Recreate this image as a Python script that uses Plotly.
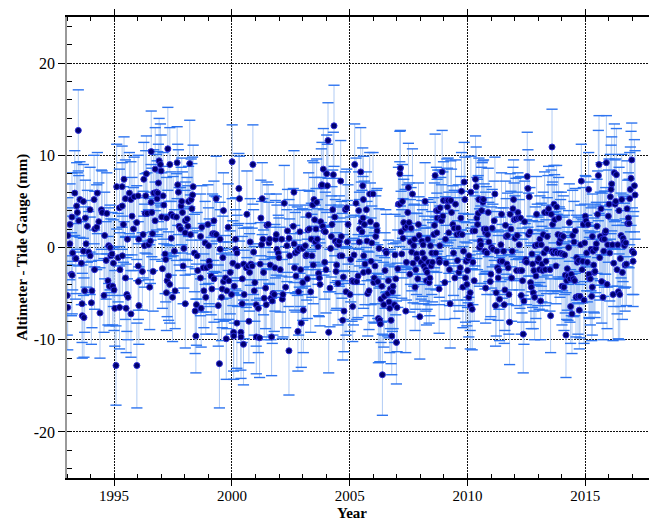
import plotly.graph_objects as go

# ---- data (decimal year, mm, 1-sigma mm) ----
t_1993 = [1993.01, 1993.03, 1993.04, 1993.13, 1993.12, 1993.19, 1993.21, 1993.22, 1993.24, 1993.33,
          1993.355, 1993.38, 1993.41, 1993.44, 1993.48, 1993.50, 1993.55, 1993.61, 1993.64, 1993.65,
          1993.695, 1993.70, 1993.72, 1993.75, 1993.78, 1993.81, 1993.865, 1993.92, 1993.98, 1993.985,
          1994.035, 1994.06, 1994.15, 1994.17, 1994.18, 1994.26, 1994.29, 1994.35, 1994.40, 1994.46,
          1994.49, 1994.57, 1994.60, 1994.66, 1994.69, 1994.74, 1994.77, 1994.80, 1994.83, 1994.86,
          1994.91, 1994.94, 1994.97, 1994.997, 1995.03, 1995.08, 1995.11, 1995.17, 1995.225, 1995.23,
          1995.25, 1995.34, 1995.345, 1995.35, 1995.395, 1995.42, 1995.48, 1995.485, 1995.51, 1995.54,
          1995.565, 1995.59, 1995.65, 1995.71, 1995.715, 1995.76, 1995.82, 1995.85, 1995.96, 1995.965,
          1996.02, 1996.025, 1996.03, 1996.045, 1996.05]
v_1993 = [-5.2, -6.5, 1.3, 2.5, 0.4, -2.9, 3.3, -3.0, -0.6, 5.9,
          -1.2, -1.2, 4.5, 3.8, 12.7, 2.9, 5.2, -1.7, -6.1, -7.4,
          5.0, -0.4, -7.6, -4.7, 3.2, 0.4, 2.3, -0.5, 4.1, -0.9,
          -6.0, -4.7, 5.2, -2.4, 2.0, 2.2, 5.9, 2.8, -7.1, 4.1,
          3.8, -5.2, 1.3, -1.4, 3.7, -3.6, 0.2, -4.2, 0.0, -0.9,
          -0.7, -4.2, -1.7, -4.6, -6.6, -12.8, 6.6, -1.1, 4.3, -6.5,
          -2.4, 6.6, 4.5, -0.9, 2.5, 7.4, 5.3, -3.3, -6.6, -5.1,
          0.9, -5.4, 5.9, 5.2, -7.2, 3.4, 2.0, 5.5, 2.7, -12.8,
          5.6, -2.0, -3.7, 0.9, -6.3]
e_1993 = [4.3, 4.6, 4.1, 4.4, 3.9, 4.5, 4.8, 4.2, 4.0, 4.6,
          4.4, 3.8, 4.7, 4.3, 4.4, 4.9, 4.1, 4.5, 4.2, 4.6,
          4.0, 4.8, 4.3, 4.5, 4.1, 4.7, 3.9, 4.4, 4.6, 4.2,
          4.5, 4.0, 4.8, 4.3, 4.1, 4.6, 4.4, 4.2, 4.9, 4.3,
          4.5, 4.0, 4.7, 4.2, 4.4, 4.8, 4.1, 4.3, 4.6, 4.0,
          4.5, 4.2, 4.7, 4.4, 4.1, 4.3, 4.6, 4.8, 4.2, 4.5,
          4.0, 4.4, 4.7, 4.3, 4.1, 4.6, 4.2, 4.5, 4.8, 4.0,
          4.3, 4.6, 4.4, 4.1, 4.7, 4.2, 4.5, 4.3, 4.0, 4.6,
          4.4, 4.8, 4.1, 4.5, 4.2]

t_1996 = [1996.20, 1996.23, 1996.26, 1996.29, 1996.315, 1996.34, 1996.37, 1996.40, 1996.46, 1996.51,
          1996.54, 1996.57, 1996.575, 1996.60, 1996.63, 1996.655, 1996.68, 1996.74, 1996.745, 1996.80,
          1996.825, 1996.85, 1996.88, 1996.91, 1996.965, 1996.995, 1997.02, 1997.05, 1997.08, 1997.11,
          1997.165, 1997.19, 1997.22, 1997.225, 1997.25, 1997.28, 1997.31, 1997.36, 1997.365, 1997.42,
          1997.425, 1997.48, 1997.505, 1997.56, 1997.59, 1997.645, 1997.675, 1997.70, 1997.73, 1997.76,
          1997.82, 1997.845, 1997.87, 1997.90, 1997.93, 1997.96, 1998.015, 1998.02, 1998.025, 1998.10,
          1998.13, 1998.16, 1998.21, 1998.24, 1998.27, 1998.30, 1998.33, 1998.355, 1998.41, 1998.44,
          1998.47, 1998.495, 1998.525, 1998.55, 1998.665, 1998.67, 1998.695, 1998.72, 1998.78, 1998.81,
          1998.865, 1998.89, 1998.92, 1998.98, 1999.005, 1999.035, 1999.06, 1999.12, 1999.15, 1999.18,
          1999.235, 1999.24, 1999.26]
v_1996 = [-2.6, 1.4, 7.4, 0.2, 3.7, 5.6, 8.0, 3.7, 0.3, -4.3,
          0.7, 4.9, 10.4, 3.8, 1.5, -2.6, 5.9, 2.9, 8.5, 6.0,
          5.3, 5.9, 7.0, 9.4, 9.0, 8.3, 3.3, -2.3, 5.6, 4.6,
          -0.7, -1.3, -4.9, 3.2, -3.6, 10.7, -3.1, -4.0, 9.0, 3.6,
          1.0, -5.4, 3.4, -0.4, -4.7, 3.3, 9.2, 6.8, 6.0, 2.3,
          2.0, 4.5, 5.0, 3.8, -2.0, -0.1, 1.6, -6.1, 2.9, 3.1,
          2.3, 5.0, 9.1, 1.4, 5.2, 4.2, 5.7, 6.6, -0.6, -6.9,
          -9.6, -6.2, -0.9, -2.5, -3.3, 1.2, -6.6, 2.2, -2.2, -4.7,
          0.5, -5.4, -2.2, 2.5, 0.2, -1.5, -2.0, -3.1, -4.5, 1.5,
          2.9, -3.4, 1.5]
e_1996 = [4.2, 4.7, 4.0, 4.5, 4.3, 4.9, 4.1, 4.4, 3.8, 4.6,
          4.6, 4.1, 4.4, 4.8, 4.0, 4.3, 4.7, 4.2, 4.5, 4.1,
          4.1, 4.5, 4.2, 4.6, 4.4, 3.9, 4.8, 4.3, 4.7, 4.2,
          4.3, 4.6, 4.1, 4.4, 3.9, 4.5, 4.8, 4.2, 4.0, 4.6,
          4.0, 4.8, 4.3, 4.5, 4.1, 4.7, 3.9, 4.4, 4.6, 4.2,
          4.5, 4.2, 4.7, 4.4, 4.1, 4.3, 4.6, 4.8, 4.2, 4.5,
          4.4, 3.8, 4.7, 4.3, 4.4, 4.9, 4.1, 4.5, 4.2, 4.6,
          4.0, 4.4, 4.7, 4.3, 4.1, 4.6, 4.2, 4.5, 4.8, 4.0,
          4.5, 4.0, 4.8, 4.3, 4.1, 4.6, 4.4, 4.2, 4.9, 4.3,
          4.3, 4.7, 4.1]

t_1999 = [1999.33, 1999.335, 1999.42, 1999.47, 1999.50, 1999.505, 1999.56, 1999.59, 1999.615, 1999.64,
          1999.645, 1999.73, 1999.76, 1999.785, 1999.84, 1999.87, 1999.93, 1999.985, 2000.01, 2000.04,
          2000.07, 2000.075, 2000.10, 2000.154, 2000.16, 2000.21, 2000.215, 2000.24, 2000.295, 2000.32,
          2000.38, 2000.385, 2000.436, 2000.44, 2000.49, 2000.495, 2000.52, 2000.61, 2000.635, 2000.69,
          2000.72, 2000.75, 2000.777, 2000.805, 2000.86, 2000.89, 2000.92, 2000.95, 2000.975, 2001.03,
          2001.035, 2001.12, 2001.174, 2001.20, 2001.23, 2001.26, 2001.287, 2001.315, 2001.344, 2001.372,
          2001.43, 2001.457, 2001.485, 2001.54, 2001.57, 2001.599, 2001.627, 2001.655, 2001.684, 2001.712,
          2001.74, 2001.797, 2001.825, 2001.854, 2001.882, 2001.91, 2001.967, 2001.995, 2002.05, 2002.11,
          2002.137, 2002.165, 2002.222, 2002.28, 2002.335, 2002.36, 2002.42, 2002.425, 2002.45]
v_1999 = [5.3, 1.4, -6.3, -12.6, 0.9, -0.2, -5.4, -4.5, -1.1, 4.0,
          -3.7, -3.3, -9.9, -4.7, 2.2, -3.6, -2.7, -5.1, 9.3, -1.7,
          -9.2, -9.6, -4.2, 0.9, -0.2, -8.2, -0.6, -2.0, 6.4, 5.3,
          -9.2, -9.7, -6.1, -3.4, -10.5, -1.8, -5.1, -2.2, 3.6, -2.0,
          -8.0, -2.7, 0.6, -1.8, -2.0, 9.0, -0.5, -4.7, -3.8, -6.2,
          -9.7, -6.6, -9.8, -1.8, 3.2, 0.3, 5.3, 0.9, -2.7, -5.5,
          -4.4, -6.2, 2.4, 2.5, 0.5, 0.9, -1.9, -5.5, -9.7, -5.8,
          -5.0, -5.1, -2.2, 0.9, 1.4, -0.2, -0.6, -1.1, -2.4, 0.9,
          -5.6, -5.1, 4.8, -4.3, 0.2, 1.8, -11.2, 1.0, -0.9]
e_1999 = [4.6, 4.1, 4.4, 4.8, 4.0, 4.3, 4.7, 4.2, 4.5, 4.1,
          4.3, 4.6, 4.4, 4.1, 4.7, 4.2, 4.5, 4.3, 4.0, 4.6,
          4.2, 4.7, 4.0, 4.5, 4.3, 4.9, 4.1, 4.4, 3.8, 4.6,
          4.1, 4.5, 4.2, 4.6, 4.4, 3.9, 4.8, 4.3, 4.7, 4.2,
          4.5, 4.2, 4.7, 4.4, 4.1, 4.3, 4.6, 4.8, 4.2, 4.5,
          4.0, 4.8, 4.3, 4.5, 4.1, 4.7, 3.9, 4.4, 4.6, 4.2,
          4.4, 3.8, 4.7, 4.3, 4.4, 4.9, 4.1, 4.5, 4.2, 4.6,
          4.5, 4.0, 4.7, 4.2, 4.4, 4.8, 4.1, 4.3, 4.6, 4.0,
          4.3, 4.6, 4.1, 4.4, 3.9, 4.5, 4.8, 4.2, 4.0]

t_2002 = [2002.605, 2002.633, 2002.637, 2002.66, 2002.69, 2002.718, 2002.775, 2002.80, 2002.83, 2002.86,
          2002.888, 2002.917, 2002.945, 2003.00, 2003.005, 2003.03, 2003.115, 2003.143, 2003.172, 2003.20,
          2003.228, 2003.257, 2003.285, 2003.342, 2003.37, 2003.398, 2003.427, 2003.455, 2003.483, 2003.512,
          2003.54, 2003.568, 2003.597, 2003.625, 2003.653, 2003.68, 2003.71, 2003.738, 2003.767, 2003.795,
          2003.823, 2003.852, 2003.88, 2003.908, 2003.937, 2003.965, 2003.993, 2004.022, 2004.05, 2004.078,
          2004.107, 2004.163, 2004.192, 2004.22, 2004.248, 2004.277, 2004.305, 2004.333, 2004.362, 2004.39,
          2004.418, 2004.447, 2004.475, 2004.503, 2004.532, 2004.56, 2004.588, 2004.617, 2004.645, 2004.673,
          2004.702, 2004.73, 2004.758, 2004.815, 2004.843, 2004.872, 2004.90, 2004.928, 2005.013, 2005.042,
          2005.098, 2005.127, 2005.155, 2005.183, 2005.212, 2005.268, 2005.297, 2005.353, 2005.382, 2005.41,
          2005.415, 2005.467, 2005.495, 2005.523, 2005.552, 2005.58, 2005.585]
v_2002 = [2.3, 6.0, 0.4, -2.2, -0.6, -3.1, -0.4, -9.1, -4.8, -0.1,
          1.7, -2.4, -8.2, -0.1, -3.8, -6.8, 0.2, -0.9, -0.8, -3.4,
          1.9, 3.5, 2.0, -4.8, 0.9, -0.9, 4.6, -1.9, 5.2, 3.0,
          0.6, 2.0, 4.9, 0.9, 0.1, -2.8, -3.3, -4.0, 2.8, 6.7,
          6.8, 2.3, 8.5, 1.8, -1.6, 1.7, -2.4, 8.0, 6.7, 11.6,
          -9.2, -4.4, -0.1, 1.2, 2.5, 4.1, 7.9, 13.2, 3.3, 0.7,
          -2.6, -1.9, 0.4, -3.9, 0.3, 0.7, -0.9, 7.2, 1.2, -0.9,
          -7.9, -3.2, -6.9, 4.1, -4.8, 4.3, 0.6, 2.5, -5.1, -1.3,
          -3.6, -6.4, -3.7, -0.8, 9.0, 4.8, -3.7, -3.1, 4.0, 0.6,
          2.0, 8.2, 2.8, 1.7, 6.7, 5.2, -2.7]
e_2002 = [4.1, 4.5, 4.2, 4.6, 4.4, 3.9, 4.8, 4.3, 4.7, 4.2,
          4.5, 4.0, 4.8, 4.3, 4.1, 4.6, 4.4, 4.2, 4.9, 4.3,
          4.3, 4.6, 4.1, 4.4, 3.9, 4.5, 4.8, 4.2, 4.0, 4.6,
          4.0, 4.4, 4.7, 4.3, 4.1, 4.6, 4.2, 4.5, 4.8, 4.0,
          4.6, 4.1, 4.4, 4.8, 4.0, 4.3, 4.7, 4.2, 4.5, 4.1,
          4.4, 4.2, 4.7, 4.4, 4.1, 4.3, 4.6, 4.4, 4.2, 4.5,
          4.2, 4.7, 4.0, 4.5, 4.3, 4.9, 4.1, 4.4, 3.8, 4.6,
          4.3, 4.6, 4.4, 4.1, 4.7, 4.2, 4.5, 4.3, 4.0, 4.6,
          4.4, 3.8, 4.7, 4.3, 4.4, 4.9, 4.1, 4.5, 4.2, 4.6,
          4.0, 4.8, 4.3, 4.5, 4.1, 4.7, 3.9]

t_2005 = [2005.565, 2005.594, 2005.622, 2005.65, 2005.707, 2005.735, 2005.764, 2005.792, 2005.82, 2005.849,
          2005.877, 2005.905, 2005.934, 2005.99, 2006.019, 2006.047, 2006.075, 2006.104, 2006.132, 2006.16,
          2006.189, 2006.217, 2006.245, 2006.274, 2006.302, 2006.33, 2006.359, 2006.387, 2006.444, 2006.472,
          2006.50, 2006.529, 2006.557, 2006.614, 2006.642, 2006.67, 2006.699, 2006.727, 2006.755, 2006.784,
          2006.812, 2006.84, 2006.897, 2006.925, 2006.954, 2006.982, 2007.01, 2007.039, 2007.067, 2007.124,
          2007.128, 2007.152, 2007.18, 2007.209, 2007.237, 2007.265, 2007.294, 2007.35, 2007.379, 2007.407,
          2007.435, 2007.464, 2007.492, 2007.52, 2007.549, 2007.577, 2007.605, 2007.634, 2007.662, 2007.69,
          2007.719, 2007.747, 2007.775, 2007.804, 2007.832, 2007.86, 2007.889, 2007.917, 2007.945, 2007.974,
          2008.03, 2008.059, 2008.087, 2008.115, 2008.144, 2008.172, 2008.20, 2008.229, 2008.257, 2008.285,
          2008.314, 2008.342, 2008.37, 2008.399, 2008.427, 2008.455, 2008.484, 2008.512, 2008.569, 2008.597,
          2008.625, 2008.654, 2008.682, 2008.71, 2008.739, 2008.795, 2008.80, 2008.824]
v_2005 = [3.2, -0.9, 2.5, -1.8, 4.1, 0.7, -5.0, -2.6, -4.7, 5.8,
          2.8, -1.5, 0.5, 5.8, -3.8, -3.3, -2.0, 1.2, 2.4, 1.8,
          -3.7, -7.7, -0.1, -7.9, -8.3, -5.6, -4.2, -13.8, -6.2, -5.3,
          -2.5, -0.4, -0.6, -5.0, -3.6, -5.9, -6.6, -4.5, -7.9, -9.6,
          -4.8, -4.2, -6.2, -0.8, -3.4, -10.3, -6.5, -2.3, 4.7, 4.7,
          8.0, 8.6, 1.7, -0.7, 5.0, 1.0, 2.7, 2.1, -6.9, -1.6,
          2.3, 3.8, 6.5, 2.7, -2.9, 0.6, 2.1, -0.5, 5.8, -1.7,
          0.2, 0.9, -4.3, -2.4, -0.7, -1.2, -3.4, 2.5, 1.3, -7.5,
          -1.6, 0.7, -0.6, 0.3, -2.0, -1.2, 5.0, -2.4, -3.6, -2.7,
          0.9, -1.6, -3.8, -3.3, 0.2, -2.0, -0.6, -1.6, 1.4, 2.4,
          7.8, -0.6, 4.0, 3.2, 4.0, -4.5, -1.3, 0.2]
e_2005 = [4.5, 4.2, 4.7, 4.4, 4.1, 4.3, 4.6, 4.8, 4.2, 4.5,
          4.2, 4.7, 4.0, 4.5, 4.3, 4.9, 4.1, 4.4, 3.8, 4.6,
          4.0, 4.8, 4.3, 4.5, 4.1, 4.7, 3.9, 4.4, 4.6, 4.2,
          4.1, 4.5, 4.2, 4.6, 4.4, 3.9, 4.8, 4.3, 4.7, 4.2,
          4.3, 4.6, 4.1, 4.4, 3.9, 4.5, 4.8, 4.2, 4.0, 4.6,
          4.6, 4.1, 4.4, 4.8, 4.0, 4.3, 4.7, 4.2, 4.5, 4.1,
          4.5, 4.0, 4.8, 4.3, 4.1, 4.6, 4.4, 4.2, 4.9, 4.3,
          4.4, 3.8, 4.7, 4.3, 4.4, 4.9, 4.1, 4.5, 4.2, 4.6,
          4.0, 4.4, 4.7, 4.3, 4.1, 4.6, 4.2, 4.5, 4.8, 4.0,
          4.3, 4.6, 4.4, 4.1, 4.7, 4.2, 4.5, 4.3, 4.0, 4.6,
          4.5, 4.0, 4.7, 4.2, 4.4, 4.8, 4.1, 4.3]

t_2008 = [2008.697, 2008.81, 2008.838, 2008.867, 2008.895, 2008.923, 2008.952, 2008.98, 2009.037, 2009.065,
          2009.093, 2009.122, 2009.15, 2009.178, 2009.207, 2009.235, 2009.263, 2009.292, 2009.32, 2009.377,
          2009.405, 2009.433, 2009.462, 2009.49, 2009.547, 2009.575, 2009.603, 2009.632, 2009.66, 2009.688,
          2009.717, 2009.745, 2009.773, 2009.802, 2009.83, 2009.858, 2009.887, 2009.915, 2009.943, 2009.972,
          2010.00, 2010.028, 2010.057, 2010.06, 2010.113, 2010.117, 2010.142, 2010.198, 2010.227, 2010.23,
          2010.283, 2010.312, 2010.34, 2010.368, 2010.397, 2010.425, 2010.453, 2010.482, 2010.51, 2010.538,
          2010.567, 2010.595, 2010.623, 2010.652, 2010.68, 2010.708, 2010.737, 2010.765, 2010.77, 2010.793,
          2010.822, 2010.85, 2010.878, 2010.907, 2010.963, 2010.992, 2011.02, 2011.048, 2011.077, 2011.133,
          2011.162, 2011.19, 2011.218, 2011.247, 2011.275, 2011.303, 2011.332, 2011.36, 2011.388, 2011.417,
          2011.445, 2011.473, 2011.53, 2011.558, 2011.587, 2011.615, 2011.643, 2011.672, 2011.70, 2011.728,
          2011.757, 2011.785, 2011.813, 2011.842, 2011.87, 2011.898, 2011.927, 2011.955, 2011.983, 2012.012]
v_2008 = [1.6, -1.6, 4.3, 3.2, 2.9, 8.2, 3.4, 5.1, -3.8, 0.9,
          -1.7, 5.1, 4.4, 5.1, 1.6, -2.4, -6.1, 5.1, 3.8, 2.5,
          -0.6, 2.1, -3.3, 4.7, 1.4, -1.4, 2.1, -2.7, 1.5, -2.2,
          3.2, 6.1, 1.4, -4.3, -0.4, 7.1, 5.2, -3.3, -1.5, -4.0,
          -2.5, -1.2, -5.4, -0.9, -4.9, -6.3, 6.0, -6.7, -1.6, 1.8,
          -3.6, 1.8, 7.4, 6.6, 3.2, 2.5, 3.7, 5.2, 0.0, 0.7,
          0.3, 4.0, 5.2, 4.9, 5.2, 2.0, -0.4, 1.6, -4.4, 2.0,
          -0.6, 1.4, 3.8, 0.6, -3.7, -2.9, 0.0, 2.1, -0.2, 2.9,
          5.8, -6.3, -4.9, -0.4, -2.2, -3.3, -2.5, -5.6, -1.5, 0.3,
          3.6, -1.5, -0.4, -6.2, -4.6, 2.4, 1.2, -1.8, 1.3, -2.2,
          -5.1, -8.1, 3.6, 2.0, -3.3, -0.4, 4.2, 5.2, 3.0, 1.0]
e_2008 = [4.3, 4.6, 4.1, 4.4, 3.9, 4.5, 4.8, 4.2, 4.0, 4.6,
          4.1, 4.5, 4.2, 4.6, 4.4, 3.9, 4.8, 4.3, 4.7, 4.2,
          4.6, 4.1, 4.4, 4.8, 4.0, 4.3, 4.7, 4.2, 4.5, 4.1,
          4.5, 4.2, 4.7, 4.4, 4.1, 4.3, 4.6, 4.8, 4.2, 4.5,
          4.0, 4.8, 4.3, 4.5, 4.1, 4.7, 3.9, 4.4, 4.6, 4.2,
          4.4, 3.8, 4.7, 4.3, 4.4, 4.9, 4.1, 4.5, 4.2, 4.6,
          4.2, 4.7, 4.0, 4.5, 4.3, 4.9, 4.1, 4.4, 3.8, 4.6,
          4.5, 4.0, 4.8, 4.3, 4.1, 4.6, 4.4, 4.2, 4.9, 4.3,
          4.0, 4.4, 4.7, 4.3, 4.1, 4.6, 4.2, 4.5, 4.8, 4.0,
          4.5, 4.0, 4.7, 4.2, 4.4, 4.8, 4.1, 4.3, 4.6, 4.0,
          4.3, 4.6, 4.4, 4.1, 4.7, 4.2, 4.5, 4.3, 4.0, 4.6]

t_2012 = [2012.054, 2012.082, 2012.11, 2012.139, 2012.167, 2012.195, 2012.224, 2012.252, 2012.28, 2012.309,
          2012.337, 2012.365, 2012.394, 2012.422, 2012.45, 2012.479, 2012.507, 2012.535, 2012.564, 2012.592,
          2012.62, 2012.649, 2012.677, 2012.705, 2012.734, 2012.762, 2012.79, 2012.819, 2012.847, 2012.875,
          2012.904, 2012.932, 2012.96, 2012.989, 2013.017, 2013.045, 2013.074, 2013.102, 2013.13, 2013.159,
          2013.187, 2013.215, 2013.244, 2013.272, 2013.30, 2013.329, 2013.357, 2013.385, 2013.414, 2013.442,
          2013.499, 2013.527, 2013.555, 2013.584, 2013.587, 2013.612, 2013.64, 2013.669, 2013.697, 2013.725,
          2013.754, 2013.782, 2013.81, 2013.839, 2013.867, 2013.895, 2013.924, 2013.952, 2013.98, 2014.009,
          2014.037, 2014.065, 2014.094, 2014.122, 2014.15, 2014.179, 2014.207, 2014.235, 2014.264, 2014.292,
          2014.32, 2014.349, 2014.377, 2014.405, 2014.434, 2014.462, 2014.49, 2014.519, 2014.547, 2014.575,
          2014.604, 2014.632, 2014.66, 2014.689, 2014.717, 2014.745, 2014.774, 2014.802, 2014.83, 2014.859,
          2014.887, 2014.915, 2014.944, 2014.972, 2015.00, 2015.029, 2015.057, 2015.085, 2015.114, 2015.142,
          2015.17]
v_2012 = [3.1, -2.5, 1.3, 3.8, 3.2, 0.3, -2.5, 3.2, -5.2, -2.5,
          -3.6, -9.4, -5.8, 2.8, -1.5, -1.3, -1.6, 7.7, 6.4, 1.4,
          5.5, 1.7, -3.8, -4.3, -0.7, -1.8, -4.9, -2.5, -5.4, 0.2,
          -3.1, 3.6, 0.3, -1.5, -1.2, -2.4, 0.9, -5.8, 0.3, -1.8,
          -2.5, 1.4, -0.6, 3.8, -2.4, -1.5, -0.2, 1.2, 3.8, 4.2,
          -2.4, -7.4, 3.6, -0.4, 10.9, 2.5, -0.6, 4.7, 3.0, -0.4,
          -2.0, 4.4, -0.6, 1.4, 3.2, 0.5, -0.6, 0.9, 1.3, -4.2,
          -0.7, 1.2, -4.3, -0.8, -3.0, -9.5, -3.6, -2.3, -3.1, 0.0,
          2.7, -3.4, -6.4, -2.9, -7.2, 1.3, -3.4, 0.6, -3.6, 1.8,
          -5.4, -1.1, -1.6, -5.3, -1.4, -6.8, -5.3, 0.3, 7.2, -2.4,
          -1.5, 2.5, -5.7, 0.5, 3.4, 2.9, -0.6, -1.6, 2.5, 6.3,
          -3.3]
e_2012 = [4.4, 3.8, 4.7, 4.3, 4.4, 4.9, 4.1, 4.5, 4.2, 4.6,
          4.5, 4.2, 4.7, 4.4, 4.1, 4.3, 4.6, 4.8, 4.2, 4.5,
          4.0, 4.8, 4.3, 4.5, 4.1, 4.7, 3.9, 4.4, 4.6, 4.2,
          4.6, 4.1, 4.4, 4.8, 4.0, 4.3, 4.7, 4.2, 4.5, 4.1,
          4.3, 4.6, 4.1, 4.4, 3.9, 4.5, 4.8, 4.2, 4.0, 4.6,
          4.5, 4.0, 4.8, 4.3, 4.1, 4.6, 4.4, 4.2, 4.9, 4.3,
          4.1, 4.5, 4.2, 4.6, 4.4, 3.9, 4.8, 4.3, 4.7, 4.2,
          4.0, 4.4, 4.7, 4.3, 4.1, 4.6, 4.2, 4.5, 4.8, 4.0,
          4.2, 4.7, 4.0, 4.5, 4.3, 4.9, 4.1, 4.4, 3.8, 4.6,
          4.3, 4.6, 4.4, 4.1, 4.7, 4.2, 4.5, 4.3, 4.0, 4.6,
          4.5, 4.0, 4.7, 4.2, 4.4, 4.8, 4.1, 4.3, 4.6, 4.0,
          4.4]

t_2015 = [2015.157, 2015.213, 2015.242, 2015.27, 2015.298, 2015.30, 2015.327, 2015.355, 2015.383, 2015.412,
          2015.44, 2015.468, 2015.497, 2015.525, 2015.553, 2015.582, 2015.61, 2015.638, 2015.667, 2015.695,
          2015.723, 2015.752, 2015.78, 2015.808, 2015.837, 2015.865, 2015.893, 2015.922, 2015.95, 2015.978,
          2016.007, 2016.035, 2016.063, 2016.092, 2016.12, 2016.148, 2016.177, 2016.205, 2016.233, 2016.262,
          2016.29, 2016.318, 2016.347, 2016.375, 2016.403, 2016.432, 2016.46, 2016.488, 2016.517, 2016.545,
          2016.573, 2016.602, 2016.63, 2016.658, 2016.687, 2016.715, 2016.743, 2016.772, 2016.80, 2016.828,
          2016.857, 2016.885, 2016.913, 2016.942, 2016.97, 2016.998, 2017.027, 2017.055, 2017.083, 2017.112]
v_2015 = [-2.9, -3.4, -0.2, -5.3, -4.3, 1.2, -0.4, -1.9, -2.7, -2.6,
          -0.1, 0.4, 2.3, 3.6, 7.8, 9.0, -1.1, 1.2, 4.2, -3.7,
          0.9, -5.4, -0.4, 0.9, 1.6, 1.8, 9.2, -4.0, 0.3, 3.4,
          4.7, -0.6, 5.5, 6.3, 6.9, 0.3, -5.1, -1.7, 8.1, 4.7,
          5.0, 7.9, -2.4, 0.3, -4.8, 4.0, -5.1, -1.2, 1.3, 5.2,
          -2.7, 1.0, 0.6, 0.2, -1.9, 0.5, -1.8, 4.2, 2.6, 3.2,
          2.6, 5.3, 6.3, 7.5, 9.5, -0.4, -1.5, -0.6, 6.7, 5.7]
e_2015 = [4.7, 5.0, 4.5, 4.8, 5.2, 4.6, 4.9, 5.1, 4.4, 5.0,
          4.8, 4.5, 5.1, 4.7, 4.9, 5.3, 4.6, 4.8, 5.0, 4.5,
          5.0, 4.6, 4.9, 5.2, 4.5, 4.7, 5.1, 4.8, 4.6, 5.0,
          4.9, 5.2, 4.6, 4.8, 5.1, 4.5, 5.0, 4.7, 5.3, 4.8,
          4.6, 5.0, 4.8, 4.5, 5.1, 4.7, 4.9, 5.2, 4.6, 4.9,
          5.1, 4.7, 4.9, 4.6, 5.0, 4.8, 4.5, 5.2, 4.7, 4.9,
          4.8, 5.0, 4.6, 5.1, 4.0, 4.7, 4.9, 4.5, 5.0, 4.8]

x_tick_vals = [1995, 2000, 2005, 2010, 2015]
x_tick_text = ["1995", "2000", "2005", "2010", "2015"]
y_tick_vals = [-20, -10, 0, 10, 20]
y_tick_text = ["-20", "-10", "0", "10", "20"]
x_title = "Year"
y_title = "Altimeter - Tide Gauge (mm)"

# ---- assemble ----
segments = [(t_1993, v_1993, e_1993), (t_1996, v_1996, e_1996), (t_1999, v_1999, e_1999),
            (t_2002, v_2002, e_2002), (t_2005, v_2005, e_2005), (t_2008, v_2008, e_2008),
            (t_2012, v_2012, e_2012), (t_2015, v_2015, e_2015)]
T, V, E = [], [], []
for t, v, e in segments:
    if not (len(t) == len(v) == len(e)):
        raise ValueError("length mismatch %d %d %d at %s" % (len(t), len(v), len(e), t[0]))
    T += t
    V += v
    E += e

upper = [v + e for v, e in zip(V, E)]
lower = [v - e for v, e in zip(V, E)]

SERIF = "Liberation Serif"

fig = go.Figure()
# light error bars
fig.add_trace(go.Scatter(
    x=T, y=V, mode="markers",
    marker=dict(size=1, color="rgba(0,0,0,0)"),
    error_y=dict(type="data", array=E, visible=True, color="#b0cbf4", thickness=1, width=0),
    hoverinfo="skip", showlegend=False))
# caps
fig.add_trace(go.Scatter(
    x=T + T, y=upper + lower, mode="markers",
    marker=dict(symbol="line-ew", size=8, line=dict(width=1.4, color="#2d74f0")),
    hoverinfo="skip", showlegend=False))
# points
fig.add_trace(go.Scatter(
    x=T, y=V, mode="markers",
    marker=dict(size=6, color="#00006e", line=dict(width=1, color="#2b2bd6")),
    showlegend=False))

# the page body keeps an 8px default margin, so the figure is sized to fit inside it
fig.update_layout(
    width=649, height=513,
    margin=dict(l=59, r=1, t=9, b=43, autoexpand=False),
    paper_bgcolor="white", plot_bgcolor="white",
    font=dict(family=SERIF, size=16, color="black"),
    annotations=[
        dict(text="<b>%s</b>" % x_title, xref="paper", yref="paper",
             x=0.484, y=-0.0770, xanchor="center", yanchor="middle", showarrow=False,
             borderpad=0, font=dict(family=SERIF, size=15, color="black")),
        dict(text="<b>%s</b>" % y_title, xref="paper", yref="paper",
             x=-0.0764, y=0.5, xanchor="center", yanchor="middle", showarrow=False,
             textangle=-90, font=dict(family=SERIF, size=15, color="black")),
    ],
)
fig.update_xaxes(
    range=[1993, 2018], tickmode="array", tickvals=x_tick_vals, ticktext=x_tick_text,
    automargin=False, ticklabelstandoff=-3,
    showline=True, linecolor="black", linewidth=1.5, mirror="allticks",
    ticks="outside", ticklen=6, tickcolor="black", tickwidth=1,
    minor=dict(dtick=1, tick0=1993, ticks="inside", ticklen=4, tickcolor="black", showgrid=False),
    showgrid=True, gridcolor="#111", griddash="2px,1px", gridwidth=1, zeroline=False,
    tickfont=dict(family=SERIF, size=15, color="black"),
)
fig.update_yaxes(
    range=[-25, 25], tickmode="array", tickvals=y_tick_vals, ticktext=y_tick_text,
    automargin=False,
    showline=True, linecolor="#9a9a9a", linewidth=1.5, mirror="allticks",
    ticks="outside", ticklen=7, tickcolor="black", tickwidth=1,
    minor=dict(dtick=2, tick0=0, ticks="inside", ticklen=5, tickcolor="black", showgrid=False),
    showgrid=True, gridcolor="#111", griddash="2px,1px", gridwidth=1, zeroline=False,
    tickfont=dict(family=SERIF, size=16, color="black"),
)

fig.write_html("out.html")
